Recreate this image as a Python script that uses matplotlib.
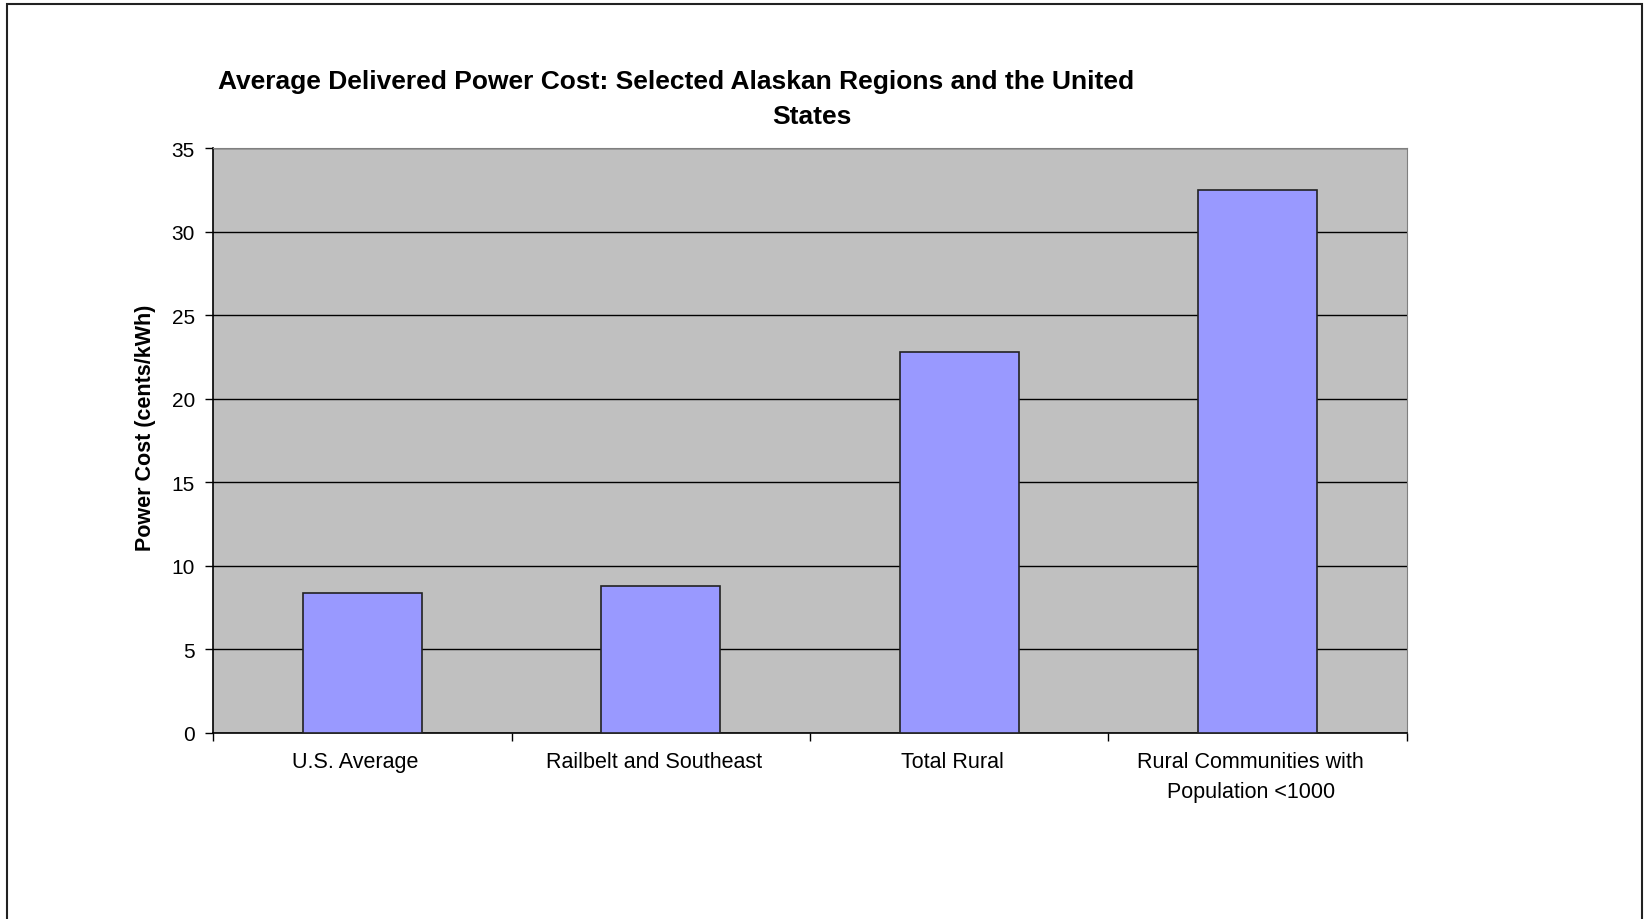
import matplotlib
matplotlib.use('Agg')
import matplotlib.pyplot as plt
import matplotlib.transforms as mtransforms
from matplotlib.patches import Rectangle
import numpy as np

plt.rcParams['font.family'] = ['Liberation Sans', 'DejaVu Sans']

categories = ['U.S. Average', 'Railbelt and Southeast', 'Total Rural',
              'Rural Communities with\nPopulation <1000']
costs = [8.4, 8.8, 22.8, 32.5]
yticks = [0, 5, 10, 15, 20, 25, 30, 35]

fig = plt.figure(figsize=(16.5, 9.2), dpi=100)
ax = fig.add_axes([0.1291, 0.2022, 0.7236, 0.6358])

x = np.arange(len(categories))
ax.set_facecolor('#C0C0C0')
ax.set_axisbelow(True)
ax.yaxis.grid(True, color='black', linewidth=1.0)
ax.bar(x, costs, width=0.4, color='#9999FF', edgecolor='#222222', linewidth=1.2, zorder=3)

ax.set_xlim(-0.5, len(categories) - 0.5)
ax.set_ylim(0, 35)
ax.set_yticks(yticks)
ax.tick_params(axis='y', labelsize=15, length=6, width=1, pad=7, direction='out')

# category boundaries get the ticks, centers get the labels
ax.set_xticks(np.arange(len(categories) + 1) - 0.5)
ax.set_xticklabels([])
ax.tick_params(axis='x', which='major', length=6, width=1, direction='out')
ax.set_xticks(x, minor=True)
ax.set_xticklabels(categories, minor=True, fontsize=15.5, linespacing=1.55)
ax.tick_params(axis='x', which='minor', length=0, pad=13)
shift = mtransforms.ScaledTranslation(-7 / 100, 0, fig.dpi_scale_trans)
for lbl in ax.get_xticklabels(minor=True):
    lbl.set_transform(lbl.get_transform() + shift)

for side in ['top', 'right']:
    ax.spines[side].set_color('#808080')
for side in ['left', 'bottom']:
    ax.spines[side].set_color('black')
    ax.spines[side].set_linewidth(1.2)

ax.set_ylabel('Power Cost (cents/kWh)', fontsize=15.5, fontweight='bold')
ax.yaxis.set_label_coords(-0.048, 0.523)

fig.text(676 / 1650, 1 - 82 / 920, 'Average Delivered Power Cost: Selected Alaskan Regions and the United',
         fontsize=19, fontweight='bold', ha='center', va='center')
fig.text(812 / 1650, 1 - 117 / 920, 'States',
         fontsize=19, fontweight='bold', ha='center', va='center')

# outer chart border (bottom edge falls outside the image)
fig.patches.append(Rectangle((7 / 1650, -0.05), (1642 - 7) / 1650, 1.05 - 5 / 920,
                             transform=fig.transFigure, fill=False,
                             edgecolor='#222222', linewidth=1.5))

fig.savefig('out.png', dpi=100)
